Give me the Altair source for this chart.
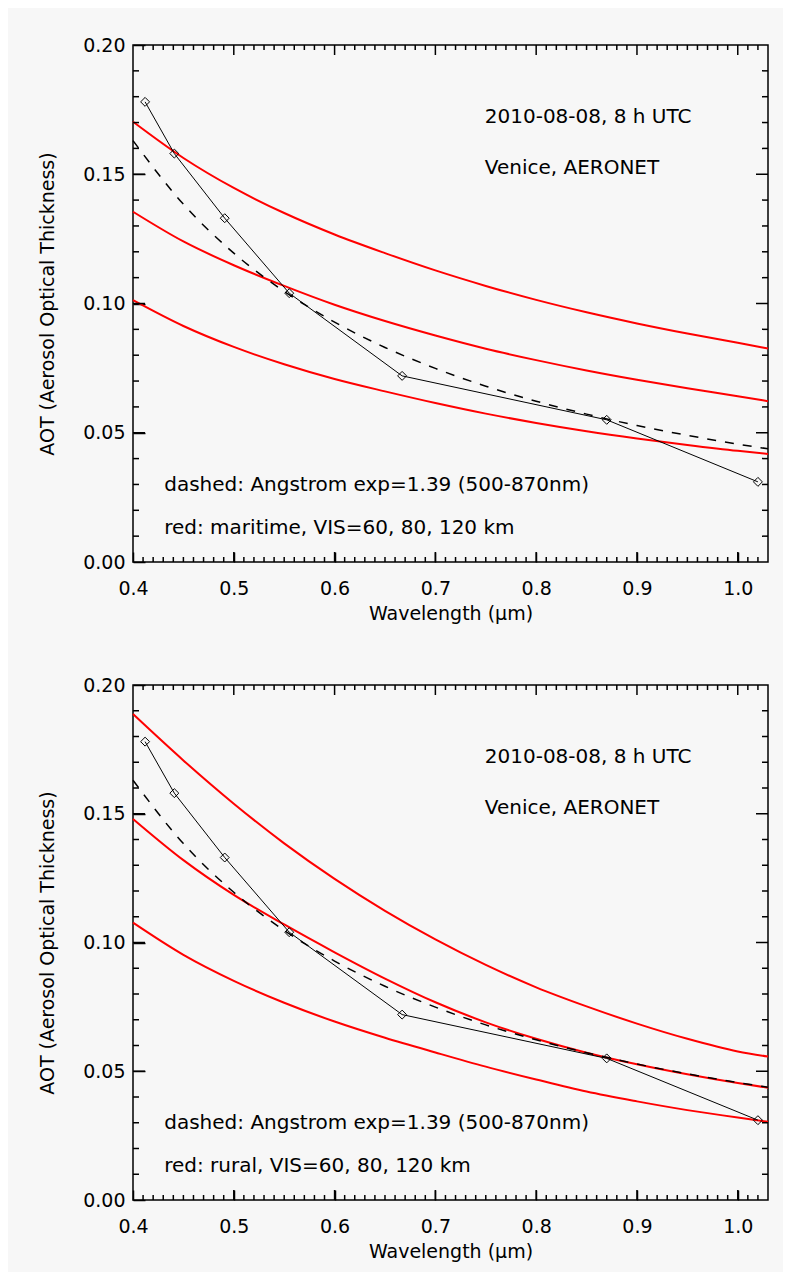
import altair as alt
import pandas as pd

# ---------------- data ----------------
WL_GRID = [0.40, 0.45, 0.50, 0.55, 0.60, 0.65, 0.70, 0.75, 0.80, 0.85, 0.90, 0.95, 1.00, 1.03]

AERONET_WL = [0.412, 0.441, 0.491, 0.555, 0.667, 0.870, 1.020]
AERONET_AOT = [0.178, 0.158, 0.133, 0.104, 0.072, 0.055, 0.031]

ANGSTROM_AOT = [0.1630, 0.1384, 0.1195, 0.1047, 0.0928, 0.0830, 0.0749,
                0.0680, 0.0622, 0.0572, 0.0528, 0.0490, 0.0456, 0.0438]

MARITIME_VIS60 = [0.1703, 0.1563, 0.1447, 0.1350, 0.1267, 0.1195, 0.1128,
                  0.1068, 0.1014, 0.0966, 0.0923, 0.0884, 0.0848, 0.0826]
MARITIME_VIS80 = [0.1355, 0.1240, 0.1148, 0.1068, 0.0995, 0.0932, 0.0876,
                  0.0825, 0.0781, 0.0741, 0.0705, 0.0672, 0.0641, 0.0622]
MARITIME_VIS120 = [0.1013, 0.0913, 0.0832, 0.0765, 0.0708, 0.0660, 0.0615,
                   0.0574, 0.0538, 0.0506, 0.0478, 0.0453, 0.0430, 0.0418]

RURAL_VIS60 = [0.1887, 0.1707, 0.1539, 0.1385, 0.1247, 0.1123, 0.1012,
               0.0913, 0.0826, 0.0752, 0.0685, 0.0626, 0.0577, 0.0557]
RURAL_VIS80 = [0.1480, 0.1320, 0.1185, 0.1070, 0.0962, 0.0860, 0.0768,
               0.0690, 0.0626, 0.0572, 0.0527, 0.0488, 0.0454, 0.0436]
RURAL_VIS120 = [0.1077, 0.0952, 0.0851, 0.0766, 0.0693, 0.0630, 0.0573,
                0.0518, 0.0468, 0.0421, 0.0383, 0.0349, 0.0320, 0.0304]

VIS_LABELS = ["60 km", "80 km", "120 km"]

DATE_TEXT = "2010-08-08, 8 h UTC"
SITE_TEXT = "Venice, AERONET"
DASH_TEXT = "dashed: Angstrom exp=1.39 (500-870nm)"
RED_TEXT_TOP = "red: maritime, VIS=60, 80, 120 km"
RED_TEXT_BOTTOM = "red: rural, VIS=60, 80, 120 km"

X_TITLE = "Wavelength (μm)"
Y_TITLE = "AOT (Aerosol Optical Thickness)"

X_MAJOR = [0.4, 0.5, 0.6, 0.7, 0.8, 0.9, 1.0]
Y_MAJOR = [0.00, 0.05, 0.10, 0.15, 0.20]

# annotation anchors (data units)
ANNOT_WL = [0.749, 0.749, 0.431, 0.431]
ANNOT_AOT = [0.1697, 0.1500, 0.0275, 0.0110]

X_DOMAIN = [0.4, 1.03]
Y_DOMAIN = [0.0, 0.2]

FONT = "DejaVu Sans"
FS = 19
FS_NOTE = 20
PLOT_W = 635

# tick lengths in pixels (IDL style: inward ticks on all four sides)
X_TICK_MAJOR_PX, X_TICK_MINOR_PX = 10, 5
Y_TICK_MAJOR_PX, Y_TICK_MINOR_PX = 12, 6

x_major_in = [v for v in X_MAJOR if X_DOMAIN[0] < v < X_DOMAIN[1]]
x_minor = [round(0.40 + 0.01 * i, 2) for i in range(1, 63) if i % 10 != 0]
y_major_in = [v for v in Y_MAJOR if Y_DOMAIN[0] < v < Y_DOMAIN[1]]
y_minor = [round(0.01 * i, 2) for i in range(1, 20) if i % 5 != 0]

XSCALE = alt.Scale(domain=X_DOMAIN, nice=False, zero=False)
YSCALE = alt.Scale(domain=Y_DOMAIN, nice=False, zero=False)

# label axes carry the major ticks; a negative offset turns them inward
x_label_axis = alt.Axis(orient="bottom", values=X_MAJOR, format=".1f", ticks=True,
                        tickSize=X_TICK_MAJOR_PX, offset=-X_TICK_MAJOR_PX,
                        tickColor="black", tickWidth=1.5,
                        domain=False, grid=False, title=X_TITLE, labelPadding=17, titlePadding=6,
                        labelFlush=False, labelFont=FONT, labelFontSize=FS, labelColor="black",
                        titleFont=FONT, titleFontSize=FS, titleFontWeight="normal", titleColor="black")
y_label_axis = alt.Axis(orient="left", values=Y_MAJOR, format=".2f", ticks=True,
                        tickSize=Y_TICK_MAJOR_PX, offset=-Y_TICK_MAJOR_PX,
                        tickColor="black", tickWidth=1.5,
                        domain=False, grid=False, title=Y_TITLE, labelPadding=8, titlePadding=25,
                        labelFlush=False, labelFont=FONT, labelFontSize=FS, labelColor="black",
                        titleFont=FONT, titleFontSize=FS, titleFontWeight="normal", titleColor="black")


def xn(field="wl"):
    return alt.X(f"{field}:Q", scale=XSCALE, axis=None)


def yn(field="aot"):
    return alt.Y(f"{field}:Q", scale=YSCALE, axis=None)


def tick_layer(height):
    """Inward ticks on all four edges, drawn as short two-point lines."""
    ydu = (Y_DOMAIN[1] - Y_DOMAIN[0]) / height
    xdu = (X_DOMAIN[1] - X_DOMAIN[0]) / PLOT_W
    rows = []
    tid = 0
    for vals, px in ((x_major_in, X_TICK_MAJOR_PX), (x_minor, X_TICK_MINOR_PX)):
        for v in vals:
            for a, b in ((Y_DOMAIN[0], Y_DOMAIN[0] + px * ydu), (Y_DOMAIN[1] - px * ydu, Y_DOMAIN[1])):
                rows.append({"tid": tid, "o": 0, "wl": v, "aot": a})
                rows.append({"tid": tid, "o": 1, "wl": v, "aot": b})
                tid += 1
    for vals, px in ((y_major_in, Y_TICK_MAJOR_PX), (y_minor, Y_TICK_MINOR_PX)):
        for v in vals:
            for a, b in ((X_DOMAIN[0], X_DOMAIN[0] + px * xdu), (X_DOMAIN[1] - px * xdu, X_DOMAIN[1])):
                rows.append({"tid": tid, "o": 0, "wl": a, "aot": v})
                rows.append({"tid": tid, "o": 1, "wl": b, "aot": v})
                tid += 1
    df = pd.DataFrame(rows)
    return alt.Chart(df).mark_line(color="black", strokeWidth=1.5).encode(
        x=xn(), y=yn(), detail="tid:N", order="o:Q")


def panel(red_series, red_text, height):
    red_df = pd.DataFrame({
        "wl": WL_GRID * 3,
        "aot": red_series[0] + red_series[1] + red_series[2],
        "vis": [VIS_LABELS[0]] * len(WL_GRID) + [VIS_LABELS[1]] * len(WL_GRID) + [VIS_LABELS[2]] * len(WL_GRID),
    })
    ang_df = pd.DataFrame({"wl": WL_GRID, "aot": ANGSTROM_AOT})
    meas_df = pd.DataFrame({"wl": AERONET_WL, "aot": AERONET_AOT})
    txt_df = pd.DataFrame({"wl": ANNOT_WL, "aot": ANNOT_AOT,
                           "label": [DATE_TEXT, SITE_TEXT, DASH_TEXT, red_text]})

    red = alt.Chart(red_df).mark_line(color="#ff0000", strokeWidth=2, interpolate="monotone").encode(
        x=alt.X("wl:Q", scale=XSCALE, axis=x_label_axis),
        y=alt.Y("aot:Q", scale=YSCALE, axis=y_label_axis), detail="vis:N")
    dashed = alt.Chart(ang_df).mark_line(color="black", strokeWidth=1.5, strokeDash=[9, 9],
                                         interpolate="monotone").encode(x=xn(), y=yn())
    meas_line = alt.Chart(meas_df).mark_line(color="black", strokeWidth=1).encode(x=xn(), y=yn())
    meas_pts = alt.Chart(meas_df).mark_point(shape="diamond", filled=False, color="black",
                                              size=80, strokeWidth=1, opacity=1).encode(x=xn(), y=yn())
    text = alt.Chart(txt_df).mark_text(align="left", baseline="alphabetic", font=FONT,
                                       fontSize=FS_NOTE, color="black").encode(
        x=xn(), y=yn(), text="label:N")

    return alt.layer(red, tick_layer(height), dashed, meas_line, meas_pts, text).resolve_axis(
        x="independent", y="independent").properties(width=PLOT_W, height=height)


top = panel([MARITIME_VIS60, MARITIME_VIS80, MARITIME_VIS120], RED_TEXT_TOP, 517)
bottom = panel([RURAL_VIS60, RURAL_VIS80, RURAL_VIS120], RED_TEXT_BOTTOM, 515)

chart = alt.vconcat(top, bottom, spacing=123, bounds="flush").properties(
    background="#f7f7f7",
    padding={"left": 29, "top": 27, "right": 10, "bottom": 10},
).configure_view(stroke="black", strokeWidth=1.5)

chart.save("out.html", embed_options={"renderer": "svg", "actions": False})
